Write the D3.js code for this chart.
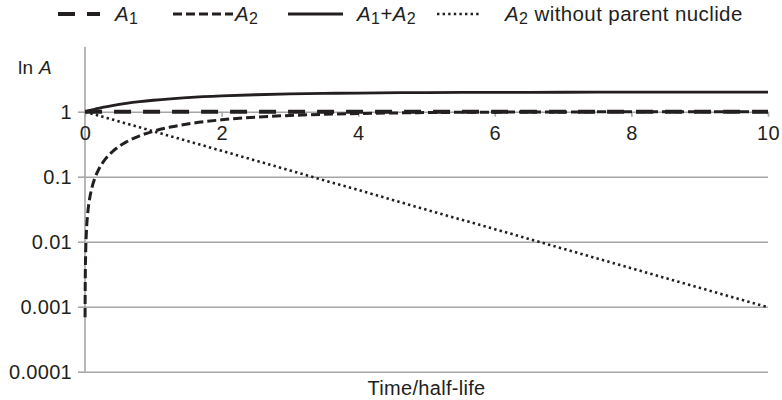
<!DOCTYPE html>
<meta charset="utf-8">
<style>
body { margin: 0; background: #fff; }
text { font-family: "Liberation Sans", Arial, sans-serif; fill: #231f20; }
.grid line { stroke: #a6a6a6; stroke-width: 1.6; }
.grid path { display: none; }
.axis path, .axis line { stroke: #a6a6a6; stroke-width: 1.6; }
.axis text { font-size: 20px; letter-spacing: 0.3px; }
.series { fill: none; stroke: #231f20; }
</style>
<svg width="782" height="400"></svg>
<script src="https://d3js.org/d3.v7.min.js"></script>
<script>
// time in half-lives
var times = [0.001, 0.003, 0.01, 0.02, 0.04, 0.07, 0.1, 0.15, 0.2, 0.3, 0.4, 0.5, 0.6, 0.8,
             1, 1.25, 1.5, 2, 2.5, 3, 3.5, 4, 5, 6, 7, 8, 9, 10];
var a1 = [1, 1, 1, 1, 1, 1, 1, 1, 1, 1, 1, 1, 1, 1,
          1, 1, 1, 1, 1, 1, 1, 1, 1, 1, 1, 1, 1, 1];
var a2 = [0.00069, 0.00208, 0.0069, 0.0138, 0.0273, 0.0474, 0.067, 0.099, 0.129, 0.188, 0.242, 0.293, 0.34, 0.426,
          0.5, 0.58, 0.646, 0.75, 0.823, 0.875, 0.912, 0.9375, 0.969, 0.984, 0.992, 0.996, 0.998, 0.999];
var a1a2 = [1.0007, 1.002, 1.007, 1.014, 1.027, 1.047, 1.067, 1.099, 1.129, 1.188, 1.242, 1.293, 1.34, 1.426,
            1.5, 1.58, 1.646, 1.75, 1.823, 1.875, 1.912, 1.9375, 1.969, 1.984, 1.992, 1.996, 1.998, 1.999];
var a2free = [0.9993, 0.998, 0.993, 0.986, 0.973, 0.953, 0.933, 0.901, 0.871, 0.812, 0.758, 0.707, 0.66, 0.574,
              0.5, 0.42, 0.354, 0.25, 0.177, 0.125, 0.088, 0.0625, 0.031, 0.0156, 0.0078, 0.0039, 0.00195, 0.00098];
var xTicks = [0, 2, 4, 6, 8, 10];
var yTicks = [1, 0.1, 0.01, 0.001, 0.0001];
var yLabels = ["1", "0.1", "0.01", "0.001", "0.0001"];

var svg = d3.select("svg"),
    margin = {top: 46.7, right: 14, bottom: 28.3, left: 85},
    width = +svg.attr("width") - margin.left - margin.right,
    height = +svg.attr("height") - margin.top - margin.bottom;

var x = d3.scaleLinear().domain([0, 10]).range([0, 683]),
    y = d3.scaleLog().domain([0.0001, 10]).range([height, 0]);

var g = svg.append("g")
    .attr("transform", "translate(" + margin.left + "," + margin.top + ")");

// horizontal grid
g.append("g")
    .attr("class", "grid")
    .call(d3.axisLeft(y).tickValues(yTicks).tickSize(-x(10)).tickFormat(""));

// y axis
g.append("g")
    .attr("class", "axis")
    .call(d3.axisLeft(y).tickValues(yTicks).tickSize(7).tickPadding(6)
        .tickFormat(function(d, i) { return yLabels[i]; }))
    .call(function(a) { a.select(".domain").attr("d", "M0," + height + "V0"); });

// x axis sits on the line A = 1
g.append("g")
    .attr("class", "axis")
    .attr("transform", "translate(0," + y(1) + ")")
    .call(d3.axisBottom(x).tickValues(xTicks).tickSize(5).tickPadding(9))
    .call(function(a) { a.select(".domain").remove(); });

// axis titles
var lnA = g.append("text").attr("x", -67).attr("y", 27)
    .style("font-size", "19px").style("letter-spacing", "0.3px");
lnA.append("tspan").text("ln ");
lnA.append("tspan").style("font-style", "italic").text("A");

g.append("text")
    .attr("x", width / 2).attr("y", height + 23)
    .attr("text-anchor", "middle")
    .style("font-size", "20px").style("letter-spacing", "0.3px")
    .text("Time/half-life");

var series = [
    {values: a1, width: 4, dash: "17,12"},
    {values: a2, width: 3, dash: "9,4"},
    {values: a1a2, width: 2.8, dash: null},
    {values: a2free, width: 2.6, dash: "2.4,3.2"}
];

var line = d3.line()
    .x(function(d) { return x(d[0]); })
    .y(function(d) { return y(d[1]); })
    .curve(d3.curveMonotoneX);

series.forEach(function(s) {
    g.append("path")
        .attr("class", "series")
        .attr("d", line(times.map(function(t, i) { return [t, s.values[i]]; })))
        .attr("stroke-width", s.width)
        .attr("stroke-dasharray", s.dash);
});

// legend
var legendItems = [
    {x0: 58, x1: 100, tx: 115, s: series[0], label: [["A", "i"], ["1", "s"]]},
    {x0: 173, x1: 233, tx: 235, s: series[1], label: [["A", "i"], ["2", "s"]]},
    {x0: 288, x1: 343, tx: 357, s: series[2], label: [["A", "i"], ["1", "s"], ["+", "n"], ["A", "i"], ["2", "s"]]},
    {x0: 437, x1: 481, tx: 505, s: series[3], label: [["A", "i"], ["2", "s"], [" without parent nuclide", "n"]]}
];
var legend = svg.append("g");
legendItems.forEach(function(it) {
    legend.append("line")
        .attr("x1", it.x0).attr("x2", it.x1)
        .attr("y1", 14).attr("y2", 14)
        .attr("stroke", "#231f20")
        .attr("stroke-width", it.s.width)
        .attr("stroke-dasharray", it.s.dash);
    var t = legend.append("text").attr("x", it.tx).attr("y", 21)
        .style("font-size", "20.5px").style("letter-spacing", "0.4px");
    var sub = false;
    it.label.forEach(function(p) {
        var ts = t.append("tspan").text(p[0]);
        if (p[1] === "i") ts.style("font-style", "italic");
        if (p[1] === "s") { ts.style("font-size", "16px").attr("dy", 3); sub = true; }
        else if (sub) { ts.attr("dy", -3); sub = false; }
    });
});
</script>
